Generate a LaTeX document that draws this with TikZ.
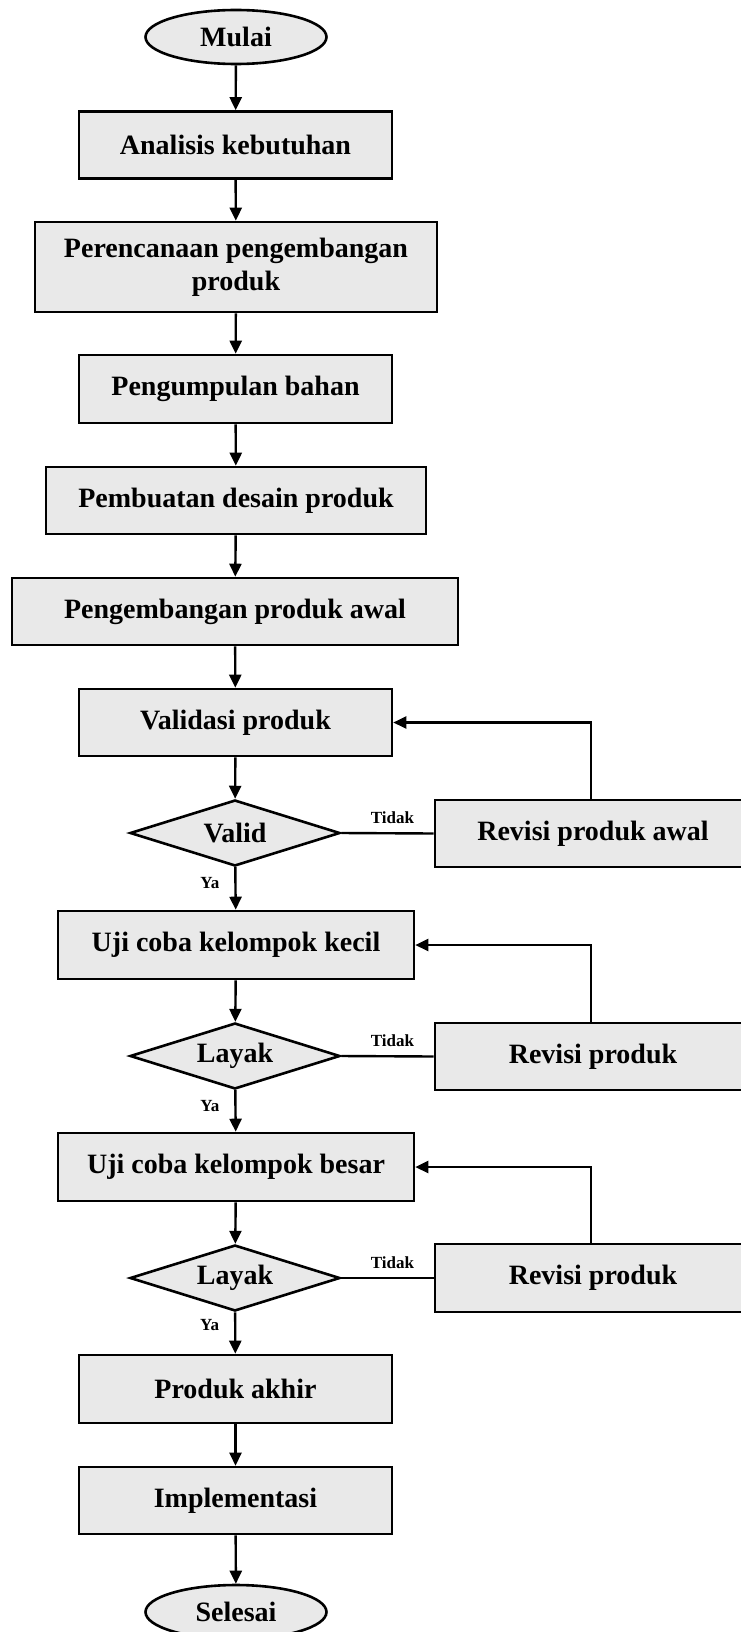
\documentclass[tikz,border=0pt]{standalone}
\usepackage{fontspec}
\setmainfont{Liberation Serif}
\usetikzlibrary{shapes.geometric,arrows.meta}
\definecolor{boxfill}{RGB}{233,233,233}
\begin{document}
\begin{tikzpicture}[x=1pt,y=-1pt,
  base/.style={draw=black, line width=2.6pt, fill=boxfill, font=\fontsize{28}{33}\selectfont\bfseries, inner sep=0pt, align=center},
  proc/.style={base, rectangle, minimum height=67pt},
  term/.style={base, ellipse, minimum width=181pt, minimum height=54pt},
  dec/.style={base, diamond, aspect=3.2, minimum width=210pt, minimum height=66pt},
  flow/.style={line width=2.4pt, -{Triangle[length=13pt,width=12pt]}},
  plain/.style={line width=2.4pt},
  lbl/.style={font=\fontsize{17}{20}\selectfont\bfseries, inner sep=0pt}
]
\useasboundingbox (0,0) rectangle (741,1632);
\clip (0,0) rectangle (741,1632);
\fill[white] (0,0) rectangle (741,1632);

\node[term] (start) at (236,37) {Mulai};
\node[proc, minimum width=313pt] (n1) at (235.5,145) {Analisis kebutuhan};
\node[proc, minimum width=402pt, minimum height=90pt] (n2) at (236,267) {Perencanaan pengembangan\\produk};
\node[proc, minimum width=313pt, minimum height=68pt] (n3) at (235.5,389) {Pengumpulan bahan};
\node[proc, minimum width=380pt] (n4) at (236,500.5) {Pembuatan desain produk};
\node[proc, minimum width=446pt] (n5) at (235,611.5) {Pengembangan produk awal};
\node[proc, minimum width=313pt] (n6) at (235.5,722.5) {Validasi produk};
\node[dec] (d1) at (235,833) {Valid};
\node[proc, minimum width=316pt] (r1) at (593,833.5) {Revisi produk awal};
\node[proc, minimum width=356pt, minimum height=68pt] (n7) at (236,945) {Uji coba kelompok kecil};
\node[dec] (d2) at (235,1056) {Layak};
\node[proc, minimum width=316pt] (r2) at (593,1056.5) {Revisi produk};
\node[proc, minimum width=356pt, minimum height=68pt] (n8) at (236,1167) {Uji coba kelompok besar};
\node[dec] (d3) at (235,1278) {Layak};
\node[proc, minimum width=316pt, minimum height=68pt] (r3) at (593,1278) {Revisi produk};
\node[proc, minimum width=313pt, minimum height=68pt] (n9) at (235.5,1389) {Produk akhir};
\node[proc, minimum width=313pt] (n10) at (235.5,1500.5) {Implementasi};
\node[term] (end) at (236,1612) {Selesai};

\draw[flow] (start) -- (n1);
\draw[flow] (n1) -- (n2);
\draw[flow] (n2) -- (n3);
\draw[flow] (n3) -- (n4);
\draw[flow] (n4) -- (n5);
\draw[flow] (n5) -- (n6);
\draw[flow] (n6) -- (d1);
\draw[flow] (d1) -- node[lbl, pos=0.38, left=15pt] {Ya} (n7);
\draw[flow] (n7) -- (d2);
\draw[flow] (d2) -- node[lbl, pos=0.38, left=15pt] {Ya} (n8);
\draw[flow] (n8) -- (d3);
\draw[flow] (d3) -- node[lbl, pos=0.3, left=15pt] {Ya} (n9);
\draw[flow] (n9) -- (n10);
\draw[flow] (n10) -- (end);

\draw[plain] (d1.east) -- node[lbl, above=8pt, xshift=5pt] {Tidak} (r1.west);
\draw[plain] (d2.east) -- node[lbl, above=8pt, xshift=5pt] {Tidak} (r2.west);
\draw[plain] (d3.east) -- node[lbl, above=8pt, xshift=5pt] {Tidak} (r3.west);

\draw[flow] ([xshift=-2pt]r1.north) |- (n6.east);
\draw[flow] ([xshift=-2pt]r2.north) |- (n7.east);
\draw[flow] ([xshift=-2pt]r3.north) |- (n8.east);
\end{tikzpicture}
\end{document}
